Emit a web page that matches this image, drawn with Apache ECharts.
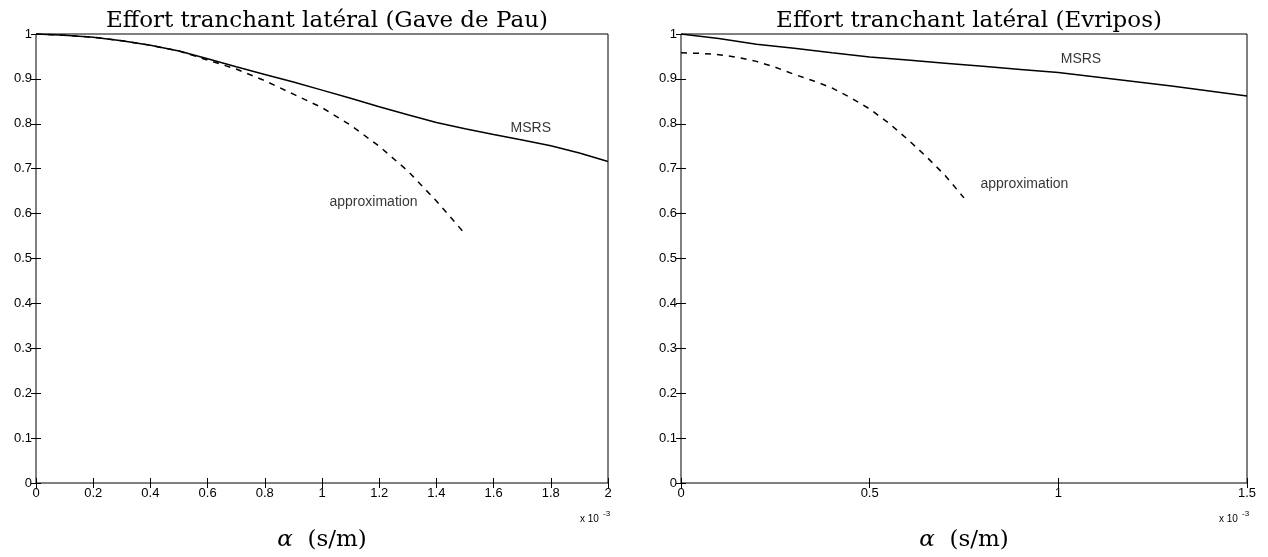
<!DOCTYPE html>
<html><head><meta charset="utf-8">
<script src="https://cdn.jsdelivr.net/npm/echarts@6/dist/echarts.min.js"></script>
<style>html,body{margin:0;padding:0;background:#fff}#c{width:1268px;height:557px}</style>
</head><body><div id="c"></div>
<script>
// ---- data (alpha in units of 1e-3 s/m) ----
const gaveX      = [0,0.1,0.2,0.3,0.4,0.5,0.6,0.7,0.8,0.9,1.0,1.1,1.2,1.3,1.4,1.5,1.6,1.7,1.8,1.9,2.0];
const gaveMSRS   = [1,0.997,0.993,0.985,0.975,0.962,0.945,0.927,0.910,0.893,0.875,0.857,0.838,0.820,0.803,0.789,0.776,0.764,0.751,0.735,0.716];
const gaveApproxX= [0,0.1,0.2,0.3,0.4,0.5,0.6,0.7,0.8,0.9,1.0,1.1,1.2,1.3,1.4,1.5];
const gaveApprox = [1,0.997,0.993,0.985,0.975,0.962,0.942,0.922,0.896,0.866,0.836,0.797,0.750,0.695,0.628,0.555];
const evrX       = [0,0.1,0.2,0.3,0.4,0.5,0.6,0.7,0.8,0.9,1.0,1.1,1.2,1.3,1.4,1.5];
const evrMSRS    = [1,0.990,0.977,0.968,0.958,0.949,0.942,0.935,0.928,0.921,0.914,0.904,0.894,0.884,0.873,0.862];
const evrApproxX = [0,0.05,0.1,0.15,0.2,0.25,0.3,0.35,0.4,0.45,0.5,0.55,0.6,0.65,0.7,0.75];
const evrApprox  = [0.958,0.957,0.954,0.948,0.939,0.926,0.910,0.896,0.880,0.858,0.833,0.802,0.766,0.727,0.685,0.635];
const titles     = ['Effort tranchant latéral (Gave de Pau)', 'Effort tranchant latéral (Evripos)'];
const xMax       = [2, 1.5];
const xStep      = [0.2, 0.5];
// annotation anchor points [text, x, y] in data units
const gaveLabels = [['MSRS', 1.73, 0.79], ['approximation', 1.18, 0.626]];
const evrLabels  = [['MSRS', 1.06, 0.943], ['approximation', 0.91, 0.666]];

const pair = (xs, ys) => xs.map((x, i) => [x, ys[i]]);
const grids = [
  {left: 36, width: 572, top: 34, bottom: 71},
  {left: 681, width: 566, top: 34, bottom: 71}
];
const serif = 'DejaVu Serif, Liberation Serif, serif';
const tickFont = {fontFamily: 'Liberation Sans, Arial, sans-serif', fontSize: 13, color: '#000'};
const xAxes = [], yAxes = [];
grids.forEach((g, i) => {
  g.show = true; g.borderColor = '#000'; g.borderWidth = 1; g.containLabel = false;
  xAxes.push({
    type: 'value', gridIndex: i, min: 0, max: xMax[i], interval: xStep[i], position: 'bottom',
    axisLine: {show: false}, splitLine: {show: false},
    axisTick: {inside: true, length: 5, lineStyle: {color: '#000'}},
    axisLabel: Object.assign({margin: 4}, tickFont),
    name: '{a|α}  (s/m)', nameLocation: 'middle', nameGap: 46,
    nameTextStyle: {fontFamily: serif, fontSize: 23, color: '#000',
      rich: {a: {fontFamily: serif, fontStyle: 'italic', fontSize: 23, color: '#000'}}}
  });
  xAxes.push({
    type: 'value', gridIndex: i, min: 0, max: xMax[i], interval: xStep[i], position: 'top',
    axisLine: {show: false}, splitLine: {show: false}, axisLabel: {show: false},
    axisTick: {inside: true, length: 5, lineStyle: {color: '#000'}}
  });
  yAxes.push({
    type: 'value', gridIndex: i, min: 0, max: 1, interval: 0.1, position: 'left',
    axisLine: {show: false}, splitLine: {show: false},
    axisTick: {inside: true, length: 5, lineStyle: {color: '#000'}},
    axisLabel: Object.assign({margin: 4}, tickFont)
  });
  yAxes.push({
    type: 'value', gridIndex: i, min: 0, max: 1, interval: 0.1, position: 'right',
    axisLine: {show: false}, splitLine: {show: false}, axisLabel: {show: false},
    axisTick: {inside: true, length: 5, lineStyle: {color: '#000'}}
  });
});

function lineSeries(idx, data, dashed) {
  return {
    type: 'line', xAxisIndex: idx * 2, yAxisIndex: idx * 2, data: data, symbol: 'none',
    lineStyle: {color: '#000', width: 1.5, type: dashed ? [6, 6] : 'solid'}, silent: true
  };
}
function labelSeries(idx, labels) {
  return {
    type: 'scatter', xAxisIndex: idx * 2, yAxisIndex: idx * 2, symbolSize: 0, silent: true,
    data: labels.map(l => ({value: [l[1], l[2]], name: l[0]})),
    label: {show: true, position: 'inside', formatter: p => p.name,
      fontFamily: 'Liberation Sans, Arial, sans-serif', fontSize: 14, color: '#000'}
  };
}

const chart = echarts.init(document.getElementById('c'), null, {renderer: 'canvas'});
chart.setOption({
  backgroundColor: '#fff',
  animation: false,
  title: titles.map((t, i) => ({
    text: t, left: grids[i].left + grids[i].width / 2, top: 5, textAlign: 'center',
    textStyle: {fontFamily: serif, fontWeight: 'normal', fontSize: 23, color: '#000'}
  })),
  grid: grids,
  xAxis: xAxes,
  yAxis: yAxes,
  series: [
    lineSeries(0, pair(gaveX, gaveMSRS), false),
    lineSeries(0, pair(gaveApproxX, gaveApprox), true),
    lineSeries(1, pair(evrX, evrMSRS), false),
    lineSeries(1, pair(evrApproxX, evrApprox), true),
    labelSeries(0, gaveLabels),
    labelSeries(1, evrLabels)
  ],
  graphic: grids.map(g => ({
    type: 'group', left: g.left + g.width - 28, top: 510,
    children: [
      {type: 'text', x: 0, y: 5, style: {text: 'x 10', font: '10px Liberation Sans, Arial, sans-serif', fill: '#000'}},
      {type: 'text', x: 23, y: 1, style: {text: '-3', font: '8px Liberation Sans, Arial, sans-serif', fill: '#000'}}
    ]
  }))
});
</script></body></html>
